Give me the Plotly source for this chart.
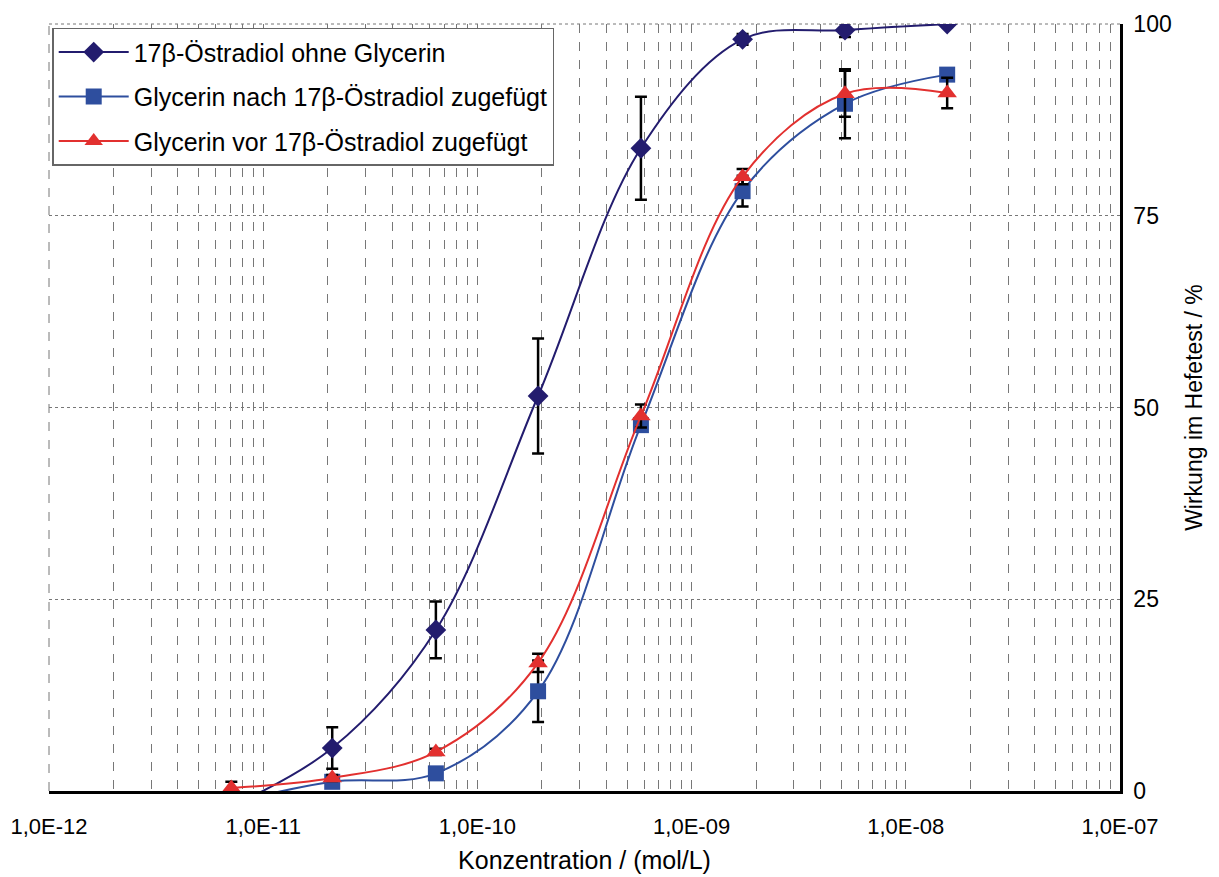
import plotly.graph_objects as go

# ---- data ----
conc = [7.1e-12, 2.1e-11, 6.4e-11, 1.92e-10, 5.8e-10, 1.73e-9, 5.2e-9, 1.56e-8]

ohne_y = [-2.0, 5.6, 21.0, 51.5, 83.8, 98.0, 99.2, 100.0]
ohne_err = [0.0, 2.7, 3.7, 7.5, 6.7, 0.7, 0.9, 0.3]

nach_y = [-1.5, 1.2, 2.3, 13.0, 47.7, 78.2, 89.6, 93.4]
nach_err = [0.0, 0.4, 0.4, 4.0, 0.8, 2.0, 4.5, 0.0]

vor_y = [0.4, 1.7, 5.1, 16.7, 48.9, 80.1, 90.9, 91.0]
vor_err = [0.8, 0.4, 0.4, 1.2, 1.5, 1.0, 3.0, 2.0]

names = ["17β-Östradiol ohne Glycerin",
         "Glycerin nach 17β-Östradiol zugefügt",
         "Glycerin vor 17β-Östradiol zugefügt"]
colors = ["#231C6E", "#2E4E9E", "#E2302F"]
symbols = ["diamond", "square", "triangle-up"]

x_tickvals = [1e-12, 1e-11, 1e-10, 1e-9, 1e-8, 1e-7]
x_ticktext = ["1,0E-12", "1,0E-11", "1,0E-10", "1,0E-09", "1,0E-08", "1,0E-07"]
y_tickvals = [0, 25, 50, 75, 100]

series = [(ohne_y, ohne_err), (nach_y, nach_err), (vor_y, vor_err)]

fig = go.Figure()
for i, ((ys, es), nm, col, sym) in enumerate(zip(series, names, colors, symbols)):
    fig.add_trace(go.Scatter(
        x=conc, y=ys, name=nm, mode="lines+markers",
        line=dict(color=col, width=2, shape="spline", smoothing=1.0),
        marker=dict(symbol=sym, size=16 if sym != "triangle-up" else 17, color=col),
        error_y=dict(type="data", array=es, visible=True, color="black",
                     thickness=2.5, width=6),
        legendgroup=f"g{i}",
    ))

grid_col = "#777777"
# page body has an 8px margin: shift margins accordingly
fig.update_layout(
    width=1219, height=877,
    paper_bgcolor="white", plot_bgcolor="white",
    margin=dict(l=41, r=107, t=16, b=94, autoexpand=False),
    font=dict(family="Liberation Sans, Arial, sans-serif", size=23, color="black"),
    showlegend=True,
    legend=dict(x=0.003, y=0.995, xanchor="left", yanchor="top",
                bgcolor="white", bordercolor="#666666", borderwidth=1.5,
                font=dict(size=25), tracegroupgap=9, itemwidth=70),
    xaxis=dict(type="log", range=[-12, -7], automargin=False,
               tickvals=x_tickvals, ticktext=x_ticktext, ticks="",
               showgrid=True, gridcolor=grid_col, griddash="dash", gridwidth=1,
               minor=dict(dtick="D1", showgrid=True, gridcolor=grid_col,
                          griddash="dash", gridwidth=1),
               showline=True, linecolor="black", linewidth=2.5,
               zeroline=False, ticklabelstandoff=14,
               title=dict(text="Konzentration / (mol/L)", font=dict(size=25), standoff=14),
               tickfont=dict(size=22)),
    yaxis=dict(range=[0, 100], side="right", tickvals=y_tickvals, ticks="",
               automargin=False,
               showgrid=True, gridcolor=grid_col, griddash="dot", gridwidth=1,
               showline=True, linecolor="black", linewidth=2.5,
               zeroline=False, ticklabelstandoff=6,
               title=dict(text="Wirkung im Hefetest / %", font=dict(size=23), standoff=16),
               tickfont=dict(size=23)),
    shapes=[
        dict(type="line", xref="paper", yref="paper", x0=0, x1=1, y0=1, y1=1,
             line=dict(color=grid_col, width=1, dash="dot"), layer="below"),
        dict(type="line", xref="paper", yref="paper", x0=0, x1=0, y0=0, y1=1,
             line=dict(color=grid_col, width=1, dash="dash"), layer="below"),
    ],
)

fig.write_html("out.html")
